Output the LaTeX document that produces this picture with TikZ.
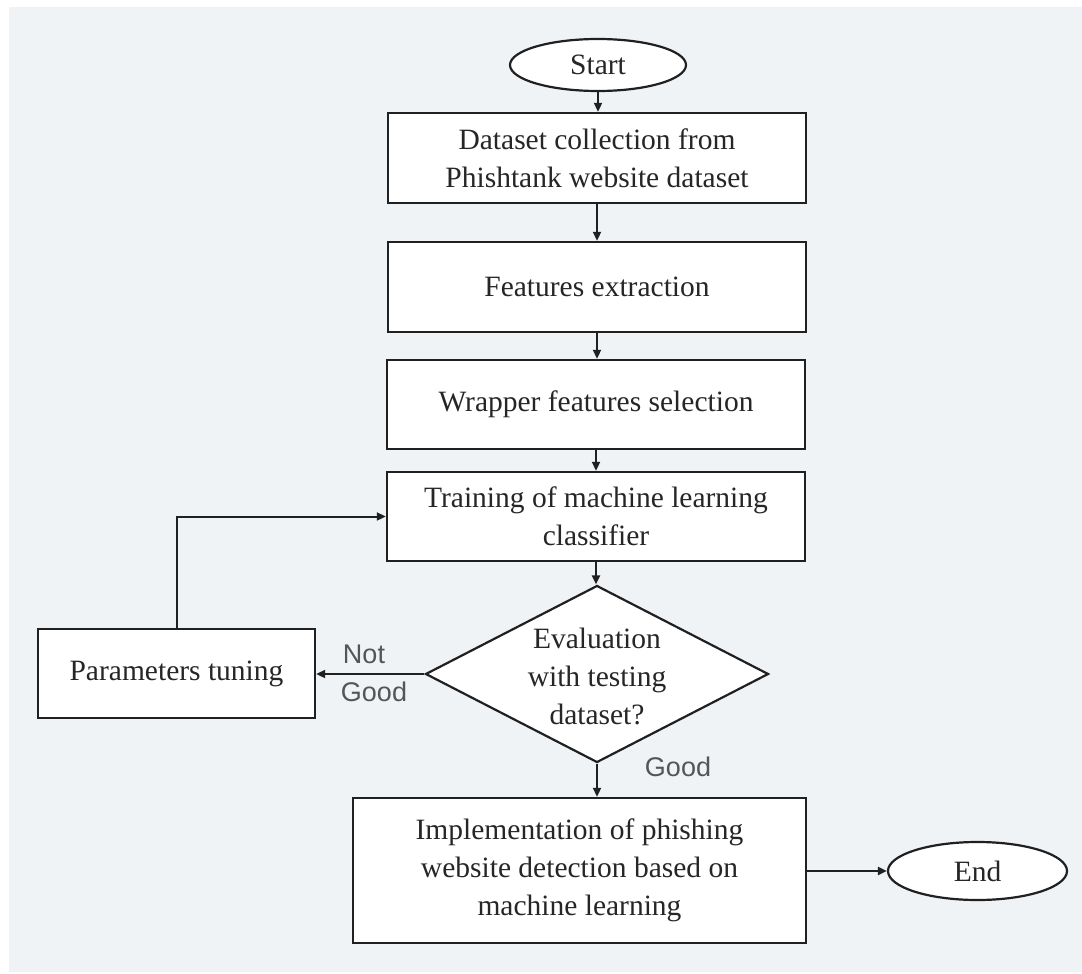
\documentclass[tikz,border=0pt]{standalone}
\usepackage{fontspec}
\setmainfont{Liberation Serif}
\newfontfamily\labelfont{Liberation Sans}
\usetikzlibrary{shapes.geometric,arrows.meta}
\definecolor{bg}{HTML}{EFF3F6}
\definecolor{txt}{HTML}{262626}
\definecolor{lbl}{HTML}{555555}
\definecolor{edge}{HTML}{202020}
\begin{document}
\begin{tikzpicture}[x=1pt,y=-1pt,
  mainfont/.style={font=\fontsize{29.5}{38}\selectfont},
  stepbox/.style={draw=edge, line width=2.4pt, fill=white, minimum width=418pt,
    minimum height=89pt, align=center, mainfont, text=txt, inner sep=0pt},
  term/.style={ellipse, draw=edge, line width=2.2pt, fill=white, inner sep=0pt,
    mainfont, text=txt},
  decision/.style={diamond, draw=edge, line width=2.2pt, fill=white, inner sep=0pt},
  dectext/.style={align=center, mainfont, text=txt, inner sep=0pt},
  conn/.style={draw=edge, line width=2pt, -{Triangle[length=9pt,width=8pt]}},
  lab/.style={font=\labelfont\fontsize{27}{30}\selectfont, text=lbl, inner sep=0pt}]
\useasboundingbox (0,0) rectangle (1082,974);
\fill[white] (0,0) rectangle (1082,974);
\fill[bg] (9,7) rectangle (1082,972);

\node[term, minimum width=176pt, minimum height=52pt] (start) at (598,65) {Start};
\node[stepbox, minimum height=90pt] (b1) at (597,158) {Dataset collection from\\Phishtank website dataset};
\node[stepbox, minimum height=90pt] (b2) at (597,287) {Features extraction};
\node[stepbox] (b3) at (596,404.5) {Wrapper features selection};
\node[stepbox] (b4) at (596,516.5) {Training of machine learning\\classifier};
\node[decision, minimum width=343pt, minimum height=177pt] (dec) at (597,674) {};
\node[dectext] (dect) at (597,676) {Evaluation\\with testing\\dataset?};
\node[stepbox, minimum width=277pt] (par) at (176.5,673.5) {Parameters tuning};
\node[stepbox, minimum width=453pt, minimum height=145pt] (impl) at (579.5,870.5) {Implementation of phishing\\website detection based on\\machine learning};
\node[term, minimum width=179pt, minimum height=58pt] (end) at (977.5,871) {End};

\draw[conn] (start.south) -- (start.south |- b1.north);
\draw[conn] (b1.south) -- (b2.north);
\draw[conn] (b2.south) -- (b2.south |- b3.north);
\draw[conn] (b3.south) -- (b4.north);
\draw[conn] (b4.south) -- (b4.south |- dec.north);
\draw[conn] (dec.west) -- (dec.west -| par.east);
\draw[conn] (par.north) |- (b4.west);
\draw[conn] (dec.south) -- (dec.south |- impl.north);
\draw[conn] (impl.east |- end.west) -- (end.west);

\node[lab] (notl) at (364,654) {Not};
\node[lab] (goodl) at (374,692) {Good};
\node[lab] (goodr) at (678,767) {Good};
\end{tikzpicture}
\end{document}
